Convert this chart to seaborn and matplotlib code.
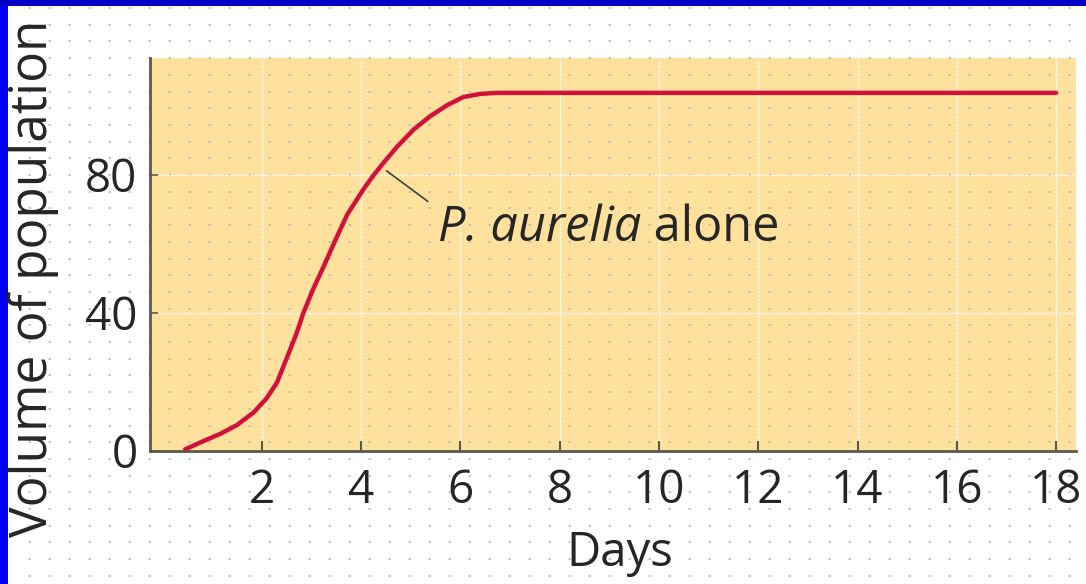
import numpy as np
import pandas as pd
import seaborn as sns
import matplotlib.pyplot as plt
from matplotlib.patches import Rectangle

# values
days = [0.46, 0.83, 1.17, 1.5, 1.84, 2.1, 2.31, 2.51, 2.71, 2.84, 3.04, 3.25, 3.45,
        3.72, 4.05, 4.25, 4.45, 4.72, 5.06, 5.39, 5.73, 6.06, 6.4, 6.73, 18.0]
volume = [0.5, 2.9, 5.0, 7.5, 11.2, 15.3, 19.9, 27.1, 34.4, 40.0, 47.0, 53.5, 60.0,
          68.4, 75.8, 79.8, 83.4, 88.0, 93.1, 96.9, 100.1, 102.5, 103.4, 103.7, 103.7]
x_ticks = [2, 4, 6, 8, 10, 12, 14, 16, 18]
y_ticks = [0, 40, 80]
species = 'P. aurelia'
note = ' alone'

df = pd.DataFrame({'Days': days, 'Volume': volume})

sns.set_style('white')
plt.rcParams['font.family'] = ['Open Sans', 'DejaVu Sans']

fig = plt.figure(figsize=(10.86, 5.84), dpi=100)
fig.patch.set_facecolor('white')

ax_pos = [150 / 1086, (584 - 451) / 584, 926 / 1086, 393 / 584]

# background: dotted paper, yellow plot panel, blue frame
bg = fig.add_axes([0, 0, 1, 1], zorder=0)
bg.set_xlim(0, 1086)
bg.set_ylim(584, 0)
bg.axis('off')
bg.add_patch(Rectangle((150, 58), 926, 393, color='#fde19c', lw=0))
rows = np.arange(8, 584, 16.7)
bg.hlines(rows, 12, 1086, colors='#b0b0b0', linewidth=1.2, linestyles=(2, (1.2, 10.8)))
bg.add_patch(Rectangle((0, 0), 8, 584, color='#0000f0', lw=0))
bg.add_patch(Rectangle((0, 0), 1086, 6, color='#0000c8', lw=0))

ax = fig.add_axes(ax_pos, zorder=1)
ax.set_facecolor('none')
sns.lineplot(data=df, x='Days', y='Volume', ax=ax, color='#d2103c', linewidth=3.2, zorder=3)

ax.set_xlim(-0.25, 18.4)
ax.set_ylim(0, 113.8)
ax.set_xticks(x_ticks)
ax.set_yticks(y_ticks)
ax.grid(True, color='white', linewidth=1, linestyle=(0, (2, 1)))
ax.set_axisbelow(True)

for s in ['top', 'right']:
    ax.spines[s].set_visible(False)
for s in ['left', 'bottom']:
    ax.spines[s].set_color('#5a5a4a')
    ax.spines[s].set_linewidth(2)

ax.tick_params(axis='x', direction='in', length=7, width=1.5, color='#5a5a4a',
               labelsize=33, pad=12, bottom=True)
ax.tick_params(axis='y', direction='in', length=6, width=1.2, color='#5a5a4a',
               labelsize=33, pad=9, left=True)

ax.set_xlabel('Days', fontsize=34)
ax.set_ylabel('Volume of population', fontsize=37)
ax.xaxis.set_label_coords(0.507, -0.2)
ax.yaxis.set_label_coords(-0.098, 0.44)
ax.xaxis.label.set_va('top')

# label with leader line
ax.annotate('', xy=(4.47, 81.6), xytext=(5.39, 71.8),
            arrowprops=dict(arrowstyle='-', color='#404040', lw=1.2))
t1 = ax.text(5.55, 60.8, species, fontsize=35, style='italic', va='baseline')
ax.annotate(note, xy=(1, 0), xycoords=t1, fontsize=35, va='bottom', ha='left')

plt.savefig('out.png', dpi=100)
